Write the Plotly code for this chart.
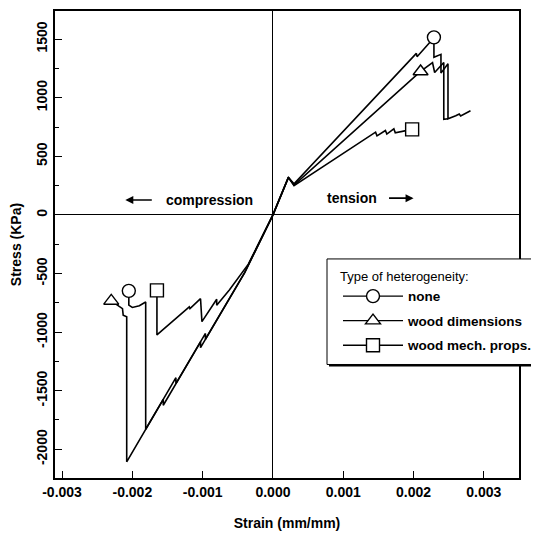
import plotly.graph_objects as go

# ---------------- data ----------------
series_names = ["none", "wood dimensions", "wood mech. props."]
series_symbols = ["circle", "triangle-up", "square"]

# tension branch (strain mm/mm, stress KPa)
none_ten_strain = [0, 0.00022, 0.00030, 0.00204, 0.00205, 0.00229, 0.00229, 0.00239, 0.00239,
                   0.00249, 0.00249, 0.00260, 0.00265, 0.00267, 0.00281]
none_ten_stress = [0, 320, 265, 1378, 1350, 1511, 1345, 1370, 1210, 1290, 820, 846, 861, 844, 889]

dims_ten_strain = [0, 0.00022, 0.00030, 0.00210, 0.00227, 0.00230, 0.00243, 0.00243, 0.00249]
dims_ten_stress = [0, 320, 255, 1224, 1300, 1215, 1300, 815, 820]

mech_ten_strain = [0, 0.00022, 0.00030, 0.00146, 0.00148, 0.00160, 0.00162, 0.00172, 0.00174, 0.00198]
mech_ten_stress = [0, 320, 250, 706, 675, 720, 690, 735, 700, 730]

# compression branch
none_com_strain = [0, -0.00040, -0.00103, -0.00103, -0.00156, -0.00156, -0.00181, -0.00181,
                   -0.00190, -0.00200, -0.00205, -0.00205]
none_com_stress = [0, -490, -1133, -1083, -1624, -1574, -1829, -743, -775, -790, -770, -650]

dims_com_strain = [0, -0.00040, -0.00096, -0.00096, -0.00138, -0.00138, -0.00208, -0.00208,
                   -0.00213, -0.00214, -0.00219, -0.00230]
dims_com_stress = [0, -490, -1061, -1011, -1439, -1389, -2107, -870, -855, -800, -775, -734]

mech_com_strain = [0, -0.00035, -0.00062, -0.00080, -0.00080, -0.00101, -0.00103, -0.00118,
                   -0.00119, -0.00165, -0.00165]
mech_com_stress = [0, -420, -640, -770, -720, -911, -715, -800, -785, -1024, -644]

# marker positions (tension, compression) for each series
none_mark_strain = [0.00229, -0.00205]
none_mark_stress = [1515, -648]
dims_mark_strain = [0.00210, -0.00230]
dims_mark_stress = [1224, -734]
mech_mark_strain = [0.00198, -0.00165]
mech_mark_stress = [730, -644]

x_tickvals = [-0.003, -0.002, -0.001, 0.0, 0.001, 0.002, 0.003]
x_ticktext = ["-0.003", "-0.002", "-0.001", "0.000", "0.001", "0.002", "0.003"]
y_tickvals = [-2000, -1500, -1000, -500, 0, 500, 1000, 1500]
y_ticktext = ["-2000", "-1500", "-1000", "-500", "0", "500", "1000", "1500"]
y_minor = [-2250, -1750, -1250, -750, -250, 250, 750, 1250]

# ---------------- figure ----------------
FAM = "Liberation Sans, Arial, sans-serif"
FONT = dict(family=FAM, size=14, color="black", weight="bold")

fig = go.Figure()

curves = [
    (none_com_strain, none_com_stress, none_ten_strain, none_ten_stress),
    (dims_com_strain, dims_com_stress, dims_ten_strain, dims_ten_stress),
    (mech_com_strain, mech_com_stress, mech_ten_strain, mech_ten_stress),
]
marks = [
    (none_mark_strain, none_mark_stress),
    (dims_mark_strain, dims_mark_stress),
    (mech_mark_strain, mech_mark_stress),
]

for (cs, cst, ts, tst) in curves:
    xs = list(reversed(cs)) + ts[1:]
    ys = list(reversed(cst)) + tst[1:]
    fig.add_trace(go.Scatter(x=xs, y=ys, mode="lines", showlegend=False,
                             line=dict(color="black", width=1.6), hoverinfo="skip"))

for name, sym, (mx, my) in zip(series_names, series_symbols, marks):
    fig.add_trace(go.Scatter(x=mx, y=my, mode="markers", showlegend=False,
                             marker=dict(symbol=sym, size=13, color="white",
                                         line=dict(color="black", width=1.4))))

# legend entries
for i, (name, sym) in enumerate(zip(series_names, series_symbols)):
    fig.add_trace(go.Scatter(x=[None], y=[None], mode="lines+markers", name=name,
                             legendgroup=f"g{i}",
                             line=dict(color="black", width=1.4),
                             marker=dict(symbol=sym, size=13, color="white",
                                         line=dict(color="black", width=1.4))))

# annotations: compression / tension with arrows
fig.add_annotation(x=-0.0009, y=127, text="compression", showarrow=False, font=FONT)
fig.add_annotation(x=-0.0021, y=127, ax=28, ay=0, text="", showarrow=True,
                   arrowhead=2, arrowsize=1, arrowwidth=1.6, arrowcolor="black")
fig.add_annotation(x=0.00113, y=143, text="tension", showarrow=False, font=FONT)
fig.add_annotation(x=0.00200, y=143, ax=-26, ay=0, text="", showarrow=True,
                   arrowhead=2, arrowsize=1, arrowwidth=1.6, arrowcolor="black")

# legend frame (box with a heavier bottom/right edge)
PX_W, PX_H = 464.0, 469.0
bx0, bx1 = (327 - 55) / PX_W, (539 - 55) / PX_W
by0, by1 = (478 - 364) / PX_H, (478 - 258) / PX_H
fig.add_shape(type="rect", xref="paper", yref="paper", layer="above",
              x0=bx0 + 2 / PX_W, x1=bx1 + 2 / PX_W, y0=by0 - 2 / PX_H, y1=by1 - 2 / PX_H,
              fillcolor="black", line=dict(width=0))
fig.add_shape(type="rect", xref="paper", yref="paper", layer="above",
              x0=bx0, x1=bx1, y0=by0, y1=by1,
              fillcolor="white", line=dict(color="black", width=1))

fig.update_layout(
    width=531, height=530, autosize=False,
    margin=dict(l=47, r=20, t=1, b=60),
    plot_bgcolor="white", paper_bgcolor="white",
    font=FONT,
    legend=dict(
        x=(338 - 55) / PX_W, y=(478 - 263) / PX_H, xanchor="left", yanchor="top",
        bgcolor="rgba(0,0,0,0)", borderwidth=0,
        font=dict(family=FAM, size=13.5, color="black", weight="bold"),
        title=dict(text="Type of heterogeneity:",
                   font=dict(family=FAM, size=13, color="black", weight="normal")),
        itemwidth=60, tracegroupgap=4,
    ),
    xaxis=dict(
        range=[-0.0031, 0.0035], tickvals=x_tickvals, ticktext=x_ticktext,
        ticks="inside", ticklen=7, tickwidth=1.3, tickcolor="black",
        showline=True, linecolor="black", linewidth=2, mirror=True,
        showgrid=False, zeroline=True, zerolinecolor="black", zerolinewidth=1.3,
        title=dict(text="Strain (mm/mm)", font=FONT, standoff=19),
        tickfont=FONT,
    ),
    yaxis=dict(
        range=[-2245, 1740], tickvals=y_tickvals, ticktext=y_ticktext, tickangle=-90,
        ticks="inside", ticklen=7, tickwidth=1.3, tickcolor="black",
        minor=dict(tickvals=y_minor, ticks="inside", ticklen=4, tickcolor="black", tickwidth=1),
        showline=True, linecolor="black", linewidth=2, mirror=True,
        showgrid=False, zeroline=True, zerolinecolor="black", zerolinewidth=1.3,
        title=dict(text="Stress (KPa)", font=FONT, standoff=15),
        tickfont=FONT,
    ),
)

fig.write_html("out.html")
